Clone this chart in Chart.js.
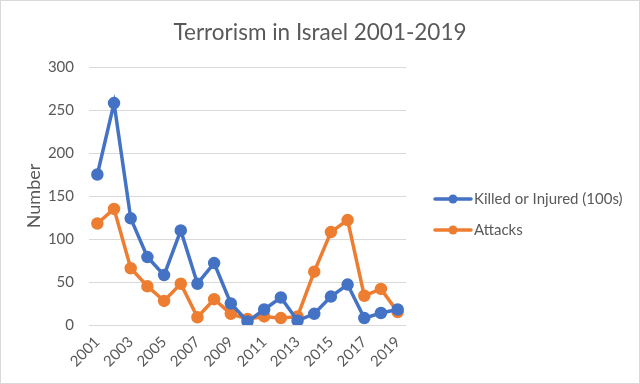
<!DOCTYPE html>
<html>
<head>
<meta charset="utf-8">
<script src="https://cdn.jsdelivr.net/npm/chart.js@4.4.1/dist/chart.umd.min.js"></script>
<style>
  html, body { margin: 0; padding: 0; background: #fff; }
  #wrap { width: 640px; height: 384px; position: relative; }
</style>
</head>
<body>
<div id="wrap"><canvas id="chart" width="640" height="384"></canvas></div>
<script>
  const years = ["2001", "2002", "2003", "2004", "2005", "2006", "2007", "2008", "2009", "2010",
    "2011", "2012", "2013", "2014", "2015", "2016", "2017", "2018", "2019"];
  const killedInjured = [175, 258, 124, 79, 58, 110, 48, 72, 25, 4, 18, 32, 5, 13, 33, 47, 8, 14, 18];
  const attacks = [118, 135, 66, 45, 28, 48, 9, 30, 13, 7, 10, 8, 10, 62, 108, 122, 34, 42, 15];
  const yTicks = [0, 50, 100, 150, 200, 250, 300];
  const seriesNames = ["Killed or Injured (100s)", "Attacks"];
  const chartTitle = "Terrorism in Israel 2001-2019";

  const colors = {
    blue: "#4472c4",
    orange: "#ed7d31",
    text: "#595959",
    grid: "#d9d9d9"
  };
  const fontFamily = "Lato, 'Open Sans', sans-serif";

  // title centred on the whole picture, not only on the plot
  const topTitle = {
    id: "topTitle",
    afterDraw(chart) {
      const ctx = chart.ctx;
      ctx.save();
      ctx.fillStyle = colors.text;
      ctx.font = `22.5px ${fontFamily}`;
      ctx.textAlign = "center";
      ctx.textBaseline = "alphabetic";
      ctx.fillText(chartTitle, chart.width / 2, 40);
      ctx.restore();
    }
  };

  // legend on the right, drawn like the office one: short line with a dot
  const sideLegend = {
    id: "sideLegend",
    afterDraw(chart) {
      const ctx = chart.ctx;
      const items = [
        { label: seriesNames[0], color: colors.blue, y: 199 },
        { label: seriesNames[1], color: colors.orange, y: 230 }
      ];
      ctx.save();
      items.forEach(item => {
        ctx.strokeStyle = item.color;
        ctx.lineWidth = 3.5;
        ctx.lineCap = "round";
        ctx.beginPath();
        ctx.moveTo(435, item.y);
        ctx.lineTo(471, item.y);
        ctx.stroke();
        ctx.fillStyle = item.color;
        ctx.beginPath();
        ctx.arc(453, item.y, 4.5, 0, Math.PI * 2);
        ctx.fill();
        ctx.fillStyle = colors.text;
        ctx.font = `15px ${fontFamily}`;
        ctx.textBaseline = "middle";
        ctx.fillText(item.label, 474, item.y);
      });
      ctx.restore();
    }
  };

  const frame = {
    id: "frame",
    beforeDraw(chart) {
      const ctx = chart.ctx;
      ctx.save();
      ctx.fillStyle = "#fff";
      ctx.fillRect(0, 0, chart.width, chart.height);
      ctx.strokeStyle = colors.grid;
      ctx.lineWidth = 1;
      ctx.strokeRect(0.5, 0.5, chart.width - 1, chart.height - 1);
      ctx.restore();
    }
  };

  const lineSet = (label, data, color) => ({
    label,
    data,
    borderColor: color,
    backgroundColor: color,
    borderWidth: 3.5,
    pointRadius: 4.5,
    pointHoverRadius: 5,
    pointBackgroundColor: color,
    pointBorderColor: color,
    tension: 0
  });

  new Chart(document.getElementById("chart"), {
    type: "line",
    data: {
      labels: years,
      datasets: [
        lineSet(seriesNames[0], killedInjured, colors.blue),
        lineSet(seriesNames[1], attacks, colors.orange)
      ]
    },
    options: {
      responsive: false,
      animation: false,
      layout: { padding: { left: 10, right: 234, top: 67, bottom: 0 } },
      plugins: {
        legend: { display: false },
        tooltip: { enabled: false },
        title: { display: false }
      },
      scales: {
        x: {
          offset: true,
          grid: { display: false, drawTicks: false },
          border: { display: false },
          afterFit: axis => { axis.height = 59; },
          ticks: {
            autoSkip: false,
            maxRotation: 45,
            minRotation: 45,
            padding: 8,
            color: colors.text,
            font: { family: fontFamily, size: 15 },
            callback: (v, i) => i % 2 === 0 ? years[i] : ""
          }
        },
        y: {
          min: 0,
          max: 300,
          afterBuildTicks: axis => { axis.ticks = yTicks.map(v => ({ value: v })); },
          afterFit: axis => { axis.width = 79; },
          grid: { color: colors.grid, lineWidth: 1, drawTicks: false },
          border: { display: false },
          ticks: {
            padding: 15,
            color: colors.text,
            font: { family: fontFamily, size: 15 }
          },
          title: {
            display: true,
            text: "Number",
            color: colors.text,
            font: { family: fontFamily, size: 18 },
            padding: { top: 13, bottom: 5 }
          }
        }
      }
    },
    plugins: [frame, topTitle, sideLegend]
  });
</script>
</body>
</html>
